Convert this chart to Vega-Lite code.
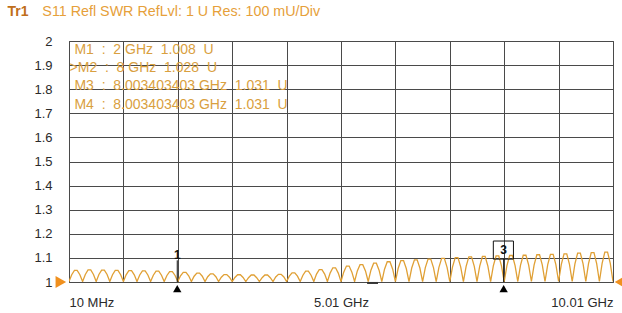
{
  "$schema": "https://vega.github.io/schema/vega-lite/v6.json",
  "width": 544,
  "height": 241,
  "autosize": {"type": "none"},
  "padding": {"left": 69, "top": 41, "right": 9, "bottom": 31},
  "background": "white",
  "config": {
    "view": {"stroke": "#3a3a3a", "strokeWidth": 1},
    "font": "Liberation Sans",
    "axis": {"labelFont": "Liberation Sans", "labelFontSize": 13, "labelColor": "#2a2a2a", "domain": false, "ticks": false, "gridColor": "#4a4a4a", "gridOpacity": 1, "gridWidth": 1, "labelOverlap": false}
  },
  "datasets": {
    "trace": [
      {"f":0.01,"v":1.002},{"f":0.06,"v":1.030},{"f":0.11,"v":1.048},{"f":0.16,"v":1.048},{"f":0.21,"v":1.030},
      {"f":0.26,"v":1.002},{"f":0.31,"v":1.031},{"f":0.36,"v":1.050},{"f":0.41,"v":1.050},{"f":0.46,"v":1.031},
      {"f":0.51,"v":1.002},{"f":0.56,"v":1.031},{"f":0.61,"v":1.049},{"f":0.66,"v":1.049},{"f":0.71,"v":1.031},
      {"f":0.76,"v":1.002},{"f":0.81,"v":1.030},{"f":0.86,"v":1.048},{"f":0.91,"v":1.048},{"f":0.96,"v":1.030},
      {"f":1.01,"v":1.002},{"f":1.06,"v":1.030},{"f":1.11,"v":1.047},{"f":1.16,"v":1.047},{"f":1.21,"v":1.030},
      {"f":1.26,"v":1.002},{"f":1.31,"v":1.029},{"f":1.36,"v":1.046},{"f":1.41,"v":1.046},{"f":1.46,"v":1.029},
      {"f":1.51,"v":1.002},{"f":1.56,"v":1.028},{"f":1.61,"v":1.045},{"f":1.66,"v":1.045},{"f":1.71,"v":1.028},
      {"f":1.76,"v":1.002},{"f":1.81,"v":1.027},{"f":1.86,"v":1.043},{"f":1.91,"v":1.043},{"f":1.96,"v":1.027},
      {"f":2.01,"v":1.002},{"f":2.06,"v":1.026},{"f":2.11,"v":1.040},{"f":2.16,"v":1.040},{"f":2.21,"v":1.026},
      {"f":2.26,"v":1.002},{"f":2.31,"v":1.024},{"f":2.36,"v":1.037},{"f":2.41,"v":1.037},{"f":2.46,"v":1.024},
      {"f":2.51,"v":1.002},{"f":2.56,"v":1.022},{"f":2.61,"v":1.034},{"f":2.66,"v":1.034},{"f":2.71,"v":1.022},
      {"f":2.76,"v":1.002},{"f":2.81,"v":1.020},{"f":2.86,"v":1.031},{"f":2.91,"v":1.031},{"f":2.96,"v":1.020},
      {"f":3.01,"v":1.002},{"f":3.06,"v":1.019},{"f":3.11,"v":1.030},{"f":3.16,"v":1.030},{"f":3.21,"v":1.019},
      {"f":3.26,"v":1.002},{"f":3.31,"v":1.018},{"f":3.36,"v":1.029},{"f":3.41,"v":1.029},{"f":3.46,"v":1.018},
      {"f":3.51,"v":1.002},{"f":3.56,"v":1.018},{"f":3.61,"v":1.029},{"f":3.66,"v":1.029},{"f":3.71,"v":1.018},
      {"f":3.76,"v":1.002},{"f":3.81,"v":1.021},{"f":3.86,"v":1.032},{"f":3.91,"v":1.032},{"f":3.96,"v":1.021},
      {"f":4.01,"v":1.002},{"f":4.06,"v":1.024},{"f":4.11,"v":1.038},{"f":4.16,"v":1.038},{"f":4.21,"v":1.024},
      {"f":4.26,"v":1.002},{"f":4.31,"v":1.028},{"f":4.36,"v":1.045},{"f":4.41,"v":1.045},{"f":4.46,"v":1.028},
      {"f":4.51,"v":1.002},{"f":4.56,"v":1.033},{"f":4.61,"v":1.051},{"f":4.66,"v":1.051},{"f":4.71,"v":1.033},
      {"f":4.76,"v":1.002},{"f":4.81,"v":1.037},{"f":4.86,"v":1.059},{"f":4.91,"v":1.059},{"f":4.96,"v":1.037},
      {"f":5.01,"v":1.002},{"f":5.06,"v":1.041},{"f":5.11,"v":1.066},{"f":5.16,"v":1.066},{"f":5.21,"v":1.041},
      {"f":5.26,"v":1.002},{"f":5.31,"v":1.046},{"f":5.36,"v":1.072},{"f":5.41,"v":1.072},{"f":5.46,"v":1.046},
      {"f":5.51,"v":1.002},{"f":5.56,"v":1.049},{"f":5.61,"v":1.078},{"f":5.66,"v":1.078},{"f":5.71,"v":1.049},
      {"f":5.76,"v":1.002},{"f":5.81,"v":1.053},{"f":5.86,"v":1.084},{"f":5.91,"v":1.084},{"f":5.96,"v":1.053},
      {"f":6.01,"v":1.002},{"f":6.06,"v":1.056},{"f":6.11,"v":1.089},{"f":6.16,"v":1.089},{"f":6.21,"v":1.056},
      {"f":6.26,"v":1.002},{"f":6.31,"v":1.058},{"f":6.36,"v":1.092},{"f":6.41,"v":1.092},{"f":6.46,"v":1.058},
      {"f":6.51,"v":1.002},{"f":6.56,"v":1.060},{"f":6.61,"v":1.095},{"f":6.66,"v":1.095},{"f":6.71,"v":1.060},
      {"f":6.76,"v":1.002},{"f":6.81,"v":1.061},{"f":6.86,"v":1.098},{"f":6.91,"v":1.098},{"f":6.96,"v":1.061},
      {"f":7.01,"v":1.002},{"f":7.06,"v":1.063},{"f":7.11,"v":1.101},{"f":7.16,"v":1.101},{"f":7.21,"v":1.063},
      {"f":7.26,"v":1.002},{"f":7.31,"v":1.065},{"f":7.36,"v":1.104},{"f":7.41,"v":1.104},{"f":7.46,"v":1.065},
      {"f":7.51,"v":1.002},{"f":7.56,"v":1.066},{"f":7.61,"v":1.106},{"f":7.66,"v":1.106},{"f":7.71,"v":1.066},
      {"f":7.76,"v":1.002},{"f":7.81,"v":1.067},{"f":7.86,"v":1.108},{"f":7.91,"v":1.108},{"f":7.96,"v":1.067},
      {"f":8.01,"v":1.002},{"f":8.06,"v":1.068},{"f":8.11,"v":1.110},{"f":8.16,"v":1.110},{"f":8.21,"v":1.068},
      {"f":8.26,"v":1.002},{"f":8.31,"v":1.070},{"f":8.36,"v":1.111},{"f":8.41,"v":1.111},{"f":8.46,"v":1.070},
      {"f":8.51,"v":1.002},{"f":8.56,"v":1.071},{"f":8.61,"v":1.113},{"f":8.66,"v":1.113},{"f":8.71,"v":1.071},
      {"f":8.76,"v":1.002},{"f":8.81,"v":1.072},{"f":8.86,"v":1.115},{"f":8.91,"v":1.115},{"f":8.96,"v":1.072},
      {"f":9.01,"v":1.002},{"f":9.06,"v":1.073},{"f":9.11,"v":1.117},{"f":9.16,"v":1.117},{"f":9.21,"v":1.073},
      {"f":9.26,"v":1.002},{"f":9.31,"v":1.075},{"f":9.36,"v":1.120},{"f":9.41,"v":1.120},{"f":9.46,"v":1.075},
      {"f":9.51,"v":1.002},{"f":9.56,"v":1.076},{"f":9.61,"v":1.122},{"f":9.66,"v":1.122},{"f":9.71,"v":1.076},
      {"f":9.76,"v":1.002},{"f":9.81,"v":1.077},{"f":9.86,"v":1.124},{"f":9.91,"v":1.124},{"f":9.96,"v":1.077},
      {"f":10.01,"v":1.002}
    ],
    "mlines": [{"f":2,"v":1.0,"v2":1.09},{"f":8,"v":1.0,"v2":1.095}],
    "mbox": [{"f":7.81,"f2":8.18,"v":1.095,"v2":1.17}],
    "mnums": [{"f":2,"v":1.112,"t":"1"},{"f":8,"v":1.133,"t":"3"}],
    "mtri": [{"f":2,"v":0.972},{"f":8,"v":0.972}],
    "reftri": [{"f":-0.14,"v":1.0,"side":"left"},{"f":10.14,"v":1.0,"side":"right"}],
    "dash": [{"f":5.49,"f2":5.69,"v":0.996}],
    "trname": [{"f":-1.12,"v":2.122,"t":"Tr1"}],
    "trinfo": [{"f":-0.48,"v":2.122,"t":"S11 Refl SWR RefLvl: 1 U Res: 100 mU/Div"}],
    "mtable": [
      {"f":0.11,"v":1.963,"t":"M1\u00a0\u00a0:\u00a0\u00a02 GHz\u00a0\u00a01.008\u00a0\u00a0U"},
      {"f":0.02,"v":1.888,"t":">M2\u00a0\u00a0:\u00a0\u00a08 GHz\u00a0\u00a01.028\u00a0\u00a0U"},
      {"f":0.11,"v":1.813,"t":"M3\u00a0\u00a0:\u00a0\u00a08.003403403 GHz\u00a0\u00a01.031\u00a0\u00a0U"},
      {"f":0.11,"v":1.736,"t":"M4\u00a0\u00a0:\u00a0\u00a08.003403403 GHz\u00a0\u00a01.031\u00a0\u00a0U"}
    ]
  },
  "encoding": {
    "x": {"field": "f", "type": "quantitative", "title": null,
      "scale": {"domain": [0.01, 10.01], "nice": false, "zero": false},
      "axis": {"values": [0.01,1.01,2.01,3.01,4.01,5.01,6.01,7.01,8.01,9.01,10.01], "grid": true, "labelFlush": true, "labelPadding": 14,
        "labelExpr": "datum.value == 0.01 ? '10 MHz' : datum.value == 5.01 ? '5.01 GHz' : datum.value == 10.01 ? '10.01 GHz' : ''"}},
    "y": {"field": "v", "type": "quantitative", "title": null,
      "scale": {"domain": [1, 2], "nice": false, "zero": false},
      "axis": {"values": [1,1.1,1.2,1.3,1.4,1.5,1.6,1.7,1.8,1.9,2], "tickCount": 11, "grid": true, "labelPadding": 17,
        "labelExpr": "format(datum.value, '.1~f')"}}
  },
  "layer": [
    {
      "data": {"name": "trace"},
      "mark": {"type": "line", "color": "#e0a035", "strokeWidth": 1.3, "clip": true}
    },
    {
      "data": {"name": "mlines"},
      "mark": {"type": "rule", "color": "#111111", "strokeWidth": 1},
      "encoding": {"y2": {"field": "v2"}}
    },
    {
      "data": {"name": "mbox"},
      "mark": {"type": "rect", "fill": null, "fillOpacity": 0, "stroke": "#111111", "strokeWidth": 1},
      "encoding": {"x2": {"field": "f2"}, "y2": {"field": "v2"}}
    },
    {
      "data": {"name": "mnums"},
      "mark": {"type": "text", "color": "#111111", "fontSize": 12, "fontWeight": "bold", "align": "center", "baseline": "middle"},
      "encoding": {"text": {"field": "t"}}
    },
    {
      "data": {"name": "mtri"},
      "mark": {"type": "point", "shape": "triangle-up", "filled": true, "color": "#000000", "size": 70, "opacity": 1}
    },
    {
      "data": {"name": "reftri"},
      "mark": {"type": "point", "filled": true, "color": "#f0901e", "size": 150, "opacity": 1},
      "encoding": {
        "shape": {"field": "side", "type": "nominal", "legend": null,
          "scale": {"domain": ["left", "right"], "range": ["triangle-right", "triangle-left"]}}
      }
    },
    {
      "data": {"name": "dash"},
      "mark": {"type": "rule", "color": "#333333", "strokeWidth": 2},
      "encoding": {"x2": {"field": "f2"}}
    },
    {
      "data": {"name": "trname"},
      "mark": {"type": "text", "align": "left", "baseline": "middle", "fontSize": 14, "fontWeight": "bold", "color": "#bf6e1a"},
      "encoding": {"text": {"field": "t"}}
    },
    {
      "data": {"name": "trinfo"},
      "mark": {"type": "text", "align": "left", "baseline": "middle", "fontSize": 14.3, "color": "#e6a03a"},
      "encoding": {"text": {"field": "t"}}
    },
    {
      "data": {"name": "mtable"},
      "mark": {"type": "text", "align": "left", "baseline": "middle", "fontSize": 14, "color": "#d9a040"},
      "encoding": {"text": {"field": "t"}}
    }
  ]
}
